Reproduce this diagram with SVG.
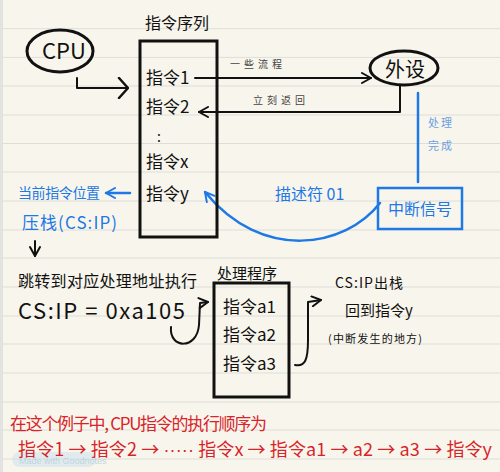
<svg xmlns="http://www.w3.org/2000/svg" width="500" height="472" viewBox="0 0 500 472">
<style>
.t{font-family:"Noto Sans CJK SC","Noto Sans",sans-serif;fill:#111}
.b{fill:#1e78e6}
.lb{fill:#6d9fe3}
.r{fill:#d8232a}
.g{fill:#444}
.k{fill:none;stroke:#111;stroke-width:2;stroke-linecap:round;stroke-linejoin:round}
.bl{fill:none;stroke:#1e78e6;stroke-width:2.5;stroke-linecap:round;stroke-linejoin:round}
.box{fill:none;stroke:#111;stroke-width:3}
.rule{stroke:#deded8;stroke-width:1}
</style>
<defs>
<marker id="ak" viewBox="0 0 12 12" refX="11" refY="6" markerWidth="12" markerHeight="12" markerUnits="userSpaceOnUse" orient="auto"><path d="M2,1 L11,6 L2,11" fill="none" stroke="#111" stroke-width="2" stroke-linecap="round" stroke-linejoin="round"/></marker>
<marker id="akL" viewBox="0 0 12 22" refX="11" refY="11" markerWidth="12" markerHeight="22" markerUnits="userSpaceOnUse" orient="auto"><path d="M2,1 L11,11 L2,21" fill="none" stroke="#111" stroke-width="2.5" stroke-linecap="round" stroke-linejoin="round"/></marker>
<marker id="ab" viewBox="0 0 12 12" refX="11" refY="6" markerWidth="12" markerHeight="12" markerUnits="userSpaceOnUse" orient="auto"><path d="M2,1 L11,6 L2,11" fill="none" stroke="#1e78e6" stroke-width="2" stroke-linecap="round" stroke-linejoin="round"/></marker>
</defs>
<rect width="500" height="472" fill="#f8f6ec"/>
<rect width="3" height="472" fill="#e2e2e0"/>
<g id="rules">
<line class="rule" x1="3" y1="28.7" x2="500" y2="28.7"/>
<line class="rule" x1="3" y1="57.4" x2="500" y2="57.4"/>
<line class="rule" x1="3" y1="86" x2="500" y2="86"/>
<line class="rule" x1="3" y1="115" x2="500" y2="115"/>
<line class="rule" x1="3" y1="143.5" x2="500" y2="143.5"/>
<line class="rule" x1="3" y1="172" x2="500" y2="172"/>
<line class="rule" x1="3" y1="201" x2="500" y2="201"/>
<line class="rule" x1="3" y1="230" x2="500" y2="230"/>
<line class="rule" x1="3" y1="258" x2="500" y2="258"/>
<line class="rule" x1="3" y1="287" x2="500" y2="287"/>
<line class="rule" x1="3" y1="316" x2="500" y2="316"/>
<line class="rule" x1="3" y1="344" x2="500" y2="344"/>
<line class="rule" x1="3" y1="373" x2="500" y2="373"/>
<line class="rule" x1="3" y1="402" x2="500" y2="402"/>
<line class="rule" x1="3" y1="430" x2="500" y2="430"/>
<line class="rule" x1="3" y1="459" x2="500" y2="459"/>
</g>

<g id="watermark" opacity="0.55">
<rect x="12" y="452" width="84" height="15" rx="7.5" fill="#cfe3ee"/>
<text x="19" y="464" font-family="Liberation Sans, sans-serif" font-size="9" fill="#8fbcd8">Made with Goodnotes</text>
</g>

<g id="connectors">
<path class="k" d="M77,78 L77,88 L128,88" marker-end="url(#akL)"/>
<path class="k" d="M195,78 L371,78" marker-end="url(#ak)"/>
<path class="k" d="M400,86 L400,112 L199,112" marker-end="url(#ak)"/>
<path class="bl" d="M418,93 L418,182"/>
<path class="bl" d="M380,203 C345,248 262,262 205,192" marker-end="url(#ab)"/>
<path class="bl" d="M130,193 L106,193" stroke-width="1.5" marker-end="url(#ab)"/>
<path class="k" d="M35,241 L35,256" stroke-width="1.5" marker-end="url(#ak)"/>
<path class="k" d="M171,327 C169,349 197,350 199,325 L200,303 L208,302" stroke-width="1.5" marker-end="url(#ak)"/>
<path class="k" d="M295,365 C305,367 308,360 308,340 L308,302 L321,300" stroke-width="1.5" marker-end="url(#ak)"/>
</g>

<g id="cpu">
<ellipse cx="60" cy="51" rx="33" ry="21" fill="none" stroke="#111" stroke-width="3"/>
<text class="t" x="64" y="59" font-size="22" text-anchor="middle">CPU</text>
</g>

<g id="instr-seq">
<text class="t" x="145" y="29" font-size="16">指令序列</text>
<rect class="box" x="140" y="41" width="77" height="196"/>
<text class="t" x="146" y="84" font-size="17">指令1</text>
<text class="t" x="146" y="113" font-size="17">指令2</text>
<text class="t" x="157" y="142" font-size="14">:</text>
<text class="t" x="146" y="168" font-size="17">指令x</text>
<text class="t" x="146" y="200" font-size="17">指令y</text>
</g>

<g id="peripheral">
<ellipse cx="404" cy="68" rx="34" ry="17" fill="none" stroke="#111" stroke-width="3"/>
<text class="t" x="405" y="77" font-size="20" text-anchor="middle">外设</text>
</g>

<g id="labels-edges">
<text class="t g" x="230" y="68" font-size="10" letter-spacing="4">一些流程</text>
<text class="t g" x="253" y="104" font-size="10" letter-spacing="4">立刻返回</text>
<text class="t lb" x="428" y="127" font-size="11" letter-spacing="2">处理</text>
<text class="t lb" x="428" y="150" font-size="11" letter-spacing="2">完成</text>
<text class="t b" x="275" y="200" font-size="16">描述符 01</text>
</g>

<g id="interrupt">
<rect x="378" y="188" width="84" height="41" fill="none" stroke="#1e78e6" stroke-width="2.5"/>
<text class="t b" x="420" y="215" font-size="16" text-anchor="middle">中断信号</text>
</g>

<g id="push-note">
<text class="t b" x="18" y="198" font-size="14" textLength="82">当前指令位置</text>
<text class="t b" x="22" y="229" font-size="17" textLength="95">压栈(CS:IP)</text>
</g>

<g id="jump-note">
<text class="t" x="18" y="287" font-size="16" textLength="179">跳转到对应处理地址执行</text>
<text class="t" x="18" y="319" font-size="22" textLength="167">CS:IP = 0xa105</text>
</g>

<g id="handler">
<text class="t" x="217" y="279" font-size="15">处理程序</text>
<rect class="box" x="214" y="283" width="75" height="114"/>
<text class="t" x="223" y="313" font-size="17">指令a1</text>
<text class="t" x="223" y="341" font-size="17">指令a2</text>
<text class="t" x="223" y="370" font-size="17">指令a3</text>
</g>

<g id="return-note">
<text class="t" x="335" y="288" font-size="14" textLength="68">CS:IP出栈</text>
<text class="t" x="345" y="316" font-size="15">回到指令y</text>
<text class="t" x="328" y="343" font-size="11" textLength="94">(中断发生的地方)</text>
</g>

<g id="summary">
<text class="t r" x="10" y="430" font-size="17" textLength="257">在这个例子中, CPU指令的执行顺序为</text>
<text class="t r" x="18" y="456" font-size="18" textLength="474">指令1 → 指令2 → <tspan font-family="Liberation Sans, sans-serif">·····</tspan> 指令x → 指令a1 → a2 → a3 → 指令y</text>
</g>
</svg>
